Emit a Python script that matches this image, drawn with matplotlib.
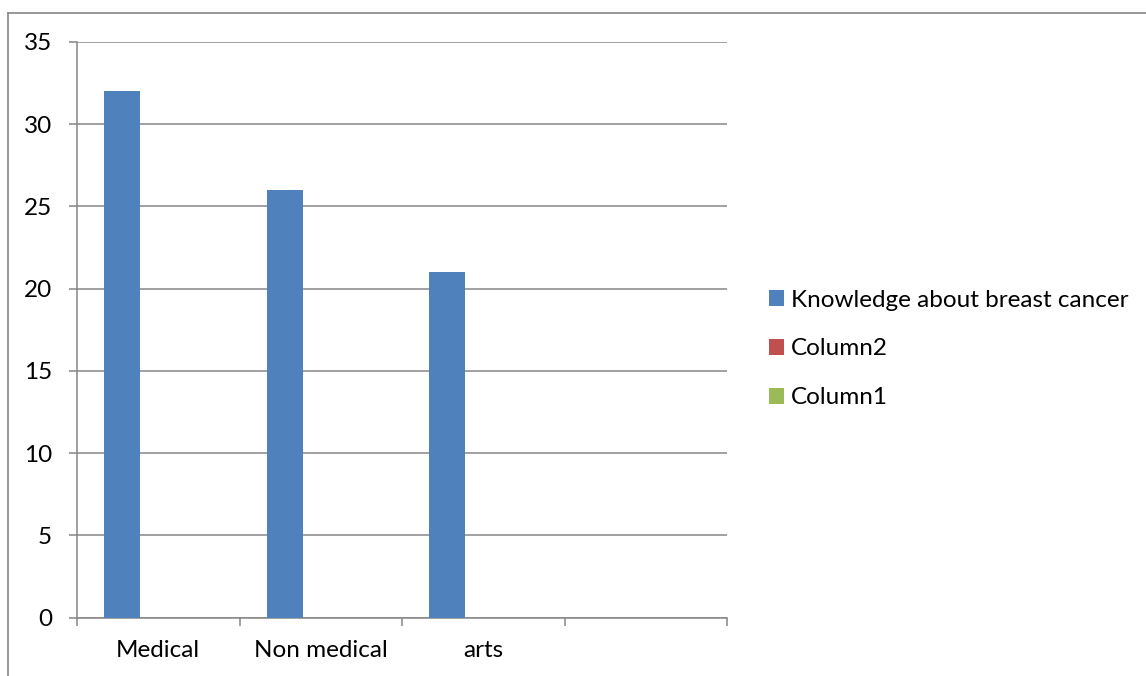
import numpy as np
import matplotlib.pyplot as plt
from matplotlib.lines import Line2D

# chart data
categories = ['Medical', 'Non medical', 'arts', '']
series_names = ['Knowledge about breast cancer', 'Column2', 'Column1']
knowledge = [32, 26, 21, 0]
column2 = [0, 0, 0, 0]
column1 = [0, 0, 0, 0]
colors = ['#4F81BD', '#C0504D', '#9BBB59']

plt.rcParams['font.family'] = ['Lato', 'DejaVu Sans']

fig = plt.figure(figsize=(11.46, 6.76), dpi=100)
W, H = 1146, 676
ax = fig.add_axes([77 / W, 1 - 617.5 / H, (727 - 77) / W, (617.5 - 42) / H])

grey = '#868686'
fs = 17.5
x = np.arange(len(categories))
w = 1 / 4.5  # excel gap width 150%
for i, (vals, name, c) in enumerate(zip([knowledge, column2, column1], series_names, colors)):
    left = x - 0.5 + 0.75 * w + i * w
    ax.bar(left, vals, width=w, align='edge', color=c, label=name, linewidth=0, zorder=3)

ax.set_xlim(-0.5, len(categories) - 0.5)
ax.set_ylim(0, 35)
ax.set_yticks(np.arange(0, 36, 5))
ax.yaxis.grid(True, color=grey, linewidth=1.1, zorder=0)
ax.set_axisbelow(True)

ax.set_xticks(x)
ax.set_xticklabels(categories)
ax.set_xticks(np.arange(len(categories) + 1) - 0.5, minor=True)
ax.tick_params(axis='x', which='major', length=0, pad=16, labelsize=fs)
ax.tick_params(axis='x', which='minor', length=5.8, width=1.1, color=grey)
ax.tick_params(axis='y', length=5.8, width=1.1, color=grey, pad=12, labelsize=fs)

for s in ['top', 'right']:
    ax.spines[s].set_visible(False)
for s in ['left', 'bottom']:
    ax.spines[s].set_color(grey)
    ax.spines[s].set_linewidth(1.1)

leg = fig.legend(loc='center left', bbox_to_anchor=(769 / W, 1 - 349 / H),
                 frameon=False, fontsize=fs, handlelength=0.62, handleheight=0.62,
                 handletextpad=0.28, labelspacing=1.14, borderpad=0, borderaxespad=0)

# outer chart frame
fig.add_artist(Line2D([8 / W, 8 / W], [0, 1 - 13 / H], transform=fig.transFigure, color=grey, linewidth=1.2))
fig.add_artist(Line2D([8 / W, 1], [1 - 13 / H, 1 - 13 / H], transform=fig.transFigure, color=grey, linewidth=1.2))

fig.savefig('out.png', dpi=100)
